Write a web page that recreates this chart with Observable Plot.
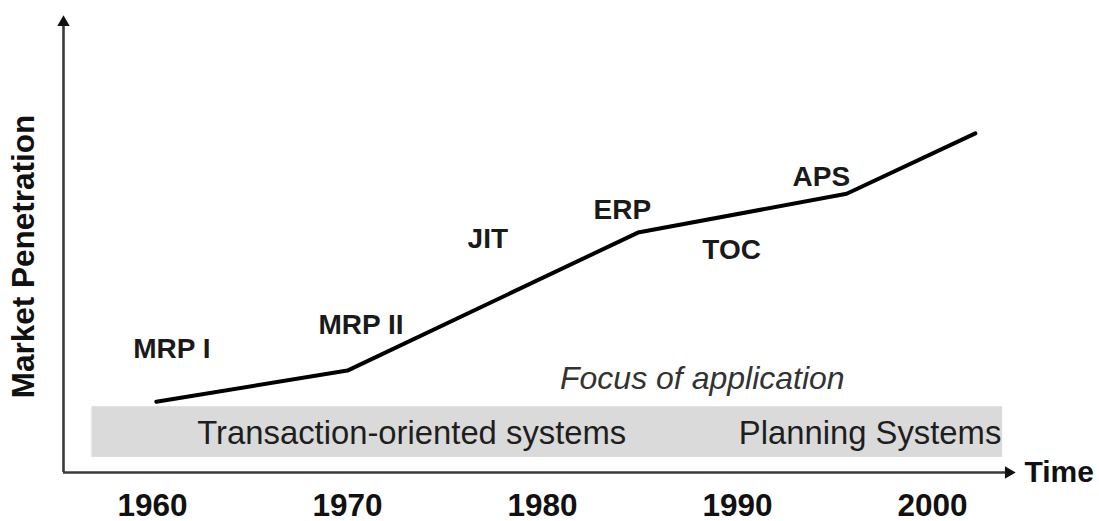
<!DOCTYPE html>
<html>
<head>
<meta charset="utf-8">
<script src="https://cdn.jsdelivr.net/npm/d3@7"></script>
<script src="https://cdn.jsdelivr.net/npm/@observablehq/plot@0.6"></script>
<style>
  html, body { margin: 0; padding: 0; background: #fff; }
  #chart svg { display: block; }
</style>
</head>
<body>
<div id="chart"></div>
<script>
// ---- data ----
const years = [1960.2, 1970, 1984.9, 1995.6, 2002.2];
const penetration = [15.5, 22.3, 52.5, 61.0, 74.2];

const labelNames = ["MRP I", "MRP II", "JIT", "ERP", "TOC", "APS"];
const labelYears = [1961.0, 1970.7, 1977.2, 1984.1, 1989.7, 1994.3];
const labelValues = [27.0, 32.2, 51.0, 57.4, 48.6, 64.6];

const tickYears = [1960, 1970, 1980, 1990, 2000];

const bandNames = ["Transaction-oriented systems", "Planning Systems"];
const bandLabelYears = [1973.3, 1996.8];
const bandLabelValues = [8.5, 8.5];
const bandStart = [1956.9];
const bandEnd = [2003.6];
const bandLow = [3.3];
const bandHigh = [14.4];

const focusText = ["Focus of application"];
const focusYear = [1988.2];
const focusValue = [20.5];

const xDomain = [1955.44, 2004.26];
const yDomain = [0, 100];

const axisTitleX = "Time";
const axisTitleY = "Market Penetration";

// ---- build tables ----
const lineData = years.map((y, i) => ({year: y, value: penetration[i]}));
const labels = labelNames.map((n, i) => ({name: n, year: labelYears[i], value: labelValues[i]}));
const bandLabels = bandNames.map((n, i) => ({name: n, year: bandLabelYears[i], value: bandLabelValues[i]}));
const band = bandStart.map((s, i) => ({x1: s, x2: bandEnd[i], y1: bandLow[i], y2: bandHigh[i]}));
const focus = focusText.map((t, i) => ({text: t, year: focusYear[i], value: focusValue[i]}));

const axisColor = "#3a3a3a";
const font = "'Liberation Sans', Arial, Helvetica, sans-serif";

const chart = Plot.plot({
  width: 1099,
  height: 521,
  marginTop: 15,
  marginBottom: 49,
  marginLeft: 63,
  marginRight: 84,
  style: {fontFamily: font, background: "#fff", overflow: "visible"},
  x: {domain: xDomain},
  y: {domain: yDomain, axis: null},
  marks: [
    Plot.rect(band, {x1: "x1", x2: "x2", y1: "y1", y2: "y2", fill: "#dadada"}),
    Plot.text(bandLabels, {x: "year", y: "value", text: "name", fontSize: 32.8, fill: "#1e1e1e", lineAnchor: "middle"}),
    Plot.text(focus, {x: "year", y: "value", text: "text", fontSize: 32, fontStyle: "italic", fill: "#333", lineAnchor: "middle"}),
    Plot.line(lineData, {x: "year", y: "value", stroke: "#000", strokeWidth: 4, strokeLinejoin: "round", strokeLinecap: "round"}),
    Plot.text(labels, {x: "year", y: "value", text: "name", fontSize: 28, fontWeight: "bold", fill: "#1a1a1a", lineAnchor: "middle"}),
    // axes lines
    Plot.ruleX([xDomain[0]], {y1: yDomain[0], y2: yDomain[1] - 2, stroke: axisColor, strokeWidth: 2.6}),
    Plot.ruleY([yDomain[0]], {x1: xDomain[0], x2: xDomain[1] - 0.4, stroke: axisColor, strokeWidth: 2.6}),
    Plot.dot([axisTitleY], {frameAnchor: "top-left", symbol: "triangle", r: 4.6, fill: "#111", stroke: "none", dy: 7}),
    Plot.dot([axisTitleX], {frameAnchor: "bottom-right", symbol: "triangle", r: 4.6, fill: "#111", stroke: "none", rotate: 90, dx: -7}),
    // axis titles
    Plot.text([axisTitleY], {frameAnchor: "left", textAnchor: "middle", rotate: -90, dx: -40, dy: 12.5, fontSize: 31.5, fontWeight: "bold", fill: "#111", lineAnchor: "middle"}),
    Plot.text([axisTitleX], {frameAnchor: "bottom-right", dx: 9, textAnchor: "start", lineAnchor: "middle", fontSize: 30, fontWeight: "bold", fill: "#111"}),
    // ticks
    Plot.axisX(tickYears, {tickSize: 0, tickPadding: 21, fontSize: 31.5, fontWeight: "bold", fill: "#111", tickFormat: d => String(d), label: null})
  ]
});
document.getElementById("chart").appendChild(chart);
</script>
</body>
</html>
